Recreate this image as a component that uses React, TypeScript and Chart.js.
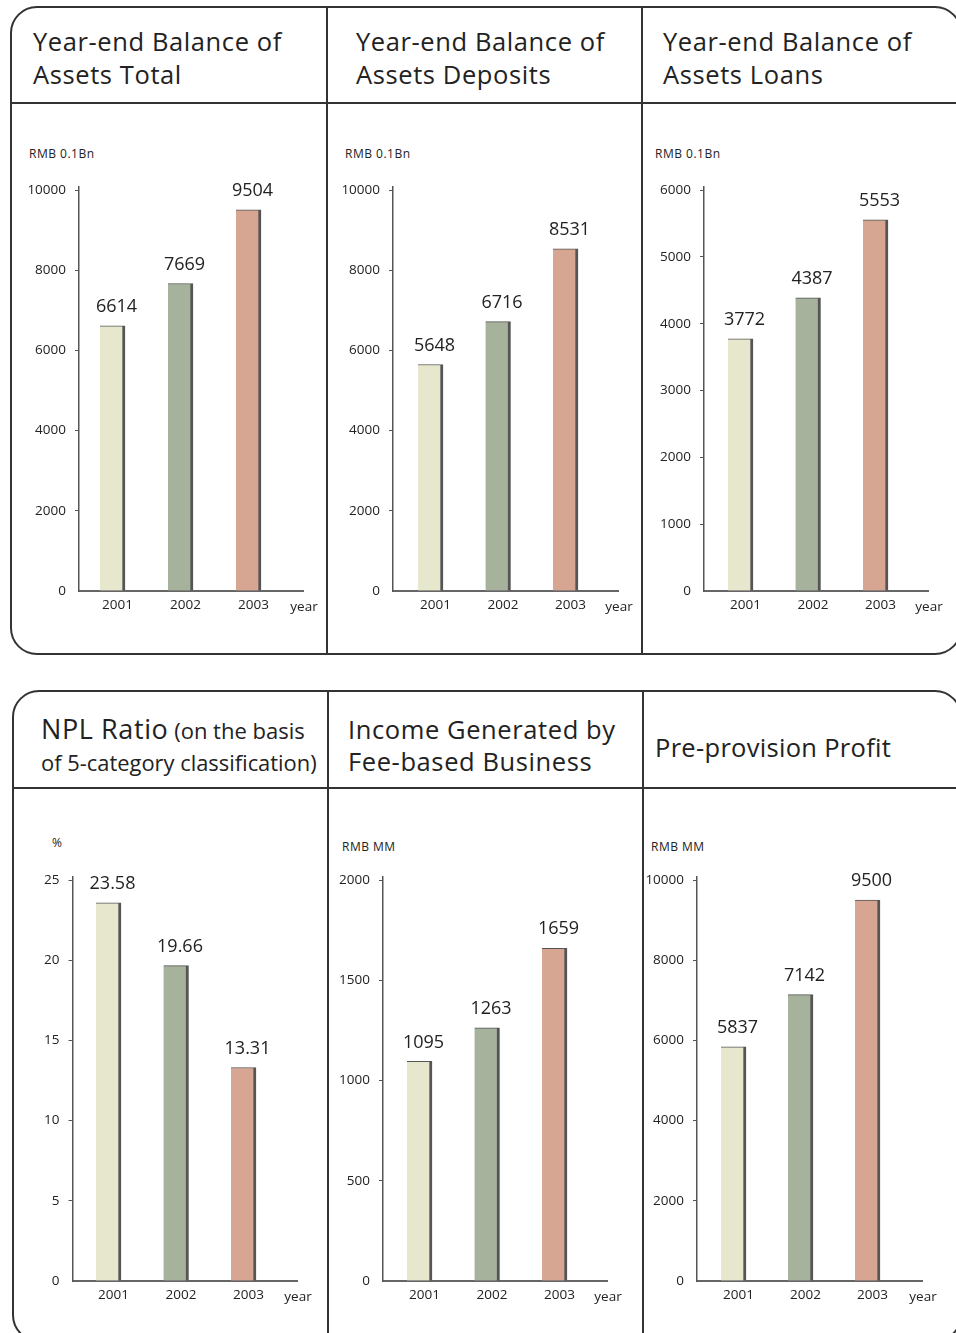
import React, { useEffect, useRef } from 'react';
import { Chart, registerables } from 'chart.js';

Chart.register(...registerables);

// ---------- data ----------
const years = ['2001', '2002', '2003'];
const assetsTotal = [6614, 7669, 9504];
const assetsDeposits = [5648, 6716, 8531];
const assetsLoans = [3772, 4387, 5553];
const nplRatio = [23.58, 19.66, 13.31];
const feeIncome = [1095, 1263, 1659];
const preProvisionProfit = [5837, 7142, 9500];

const ticksAssetsTotal = [0, 2000, 4000, 6000, 8000, 10000];
const ticksAssetsDeposits = [0, 2000, 4000, 6000, 8000, 10000];
const ticksAssetsLoans = [0, 1000, 2000, 3000, 4000, 5000, 6000];
const ticksNpl = [0, 5, 10, 15, 20, 25];
const ticksFee = [0, 500, 1000, 1500, 2000];
const ticksProfit = [0, 2000, 4000, 6000, 8000, 10000];

const unitBn = 'RMB 0.1Bn';
const unitPct = '%';
const unitMM = 'RMB MM';
const xAxisName = 'year';

// ---------- style ----------
const FONT = "'Open Sans', sans-serif";
const barColors = ['#e7e7cd', '#a6b29c', '#d6a692'];
const shadowColor = '#555555';
const textColor = '#222222';
const lineColor = '#333333';

type Cfg = {
  values: number[];
  ticks: number[];
  left: number;
  top: number;
  width: number;
  height: number;
  axisX: number;
  firstCenter: number;
  spacing: number;
  axisEnd: number;
  plotTop: number;
  plotBottom: number;
};

const labelPlugin = {
  id: 'barLabels',
  afterDatasetsDraw(chart: any) {
    const ctx = chart.ctx;
    const meta = chart.getDatasetMeta(0);
    const ds = chart.data.datasets[0];
    ctx.save();
    ctx.fillStyle = textColor;
    ctx.textAlign = 'center';
    ctx.textBaseline = 'middle';
    ctx.font = `18px ${FONT}`;
    meta.data.forEach((el: any, i: number) => {
      ctx.fillText(String(ds.data[i].y), el.x + 4, el.y - 19);
    });
    ctx.font = `13.5px ${FONT}`;
    ctx.fillText(xAxisName, chart.chartArea.right + 1, chart.chartArea.bottom + 16);
    ctx.restore();
  },
};

function BarChart({ cfg }: { cfg: Cfg }) {
  const ref = useRef<HTMLCanvasElement>(null);
  useEffect(() => {
    const c = cfg;
    const yMax = c.ticks[c.ticks.length - 1];
    const ext = (yMax * 3) / (c.plotBottom - c.plotTop);
    const chart = new Chart(ref.current as HTMLCanvasElement, {
      type: 'bar',
      data: {
        datasets: [
          {
            data: c.values.map((v, i) => ({ x: i + 1, y: v })) as any,
            backgroundColor: barColors,
            borderColor: shadowColor,
            borderWidth: { top: 1, right: 3, bottom: 0, left: 0 },
            borderSkipped: false,
            barThickness: 25,
          },
        ],
      },
      options: {
        responsive: false,
        animation: false,
        devicePixelRatio: 1,
        layout: {
          padding: {
            top: c.plotTop - 3 - c.top,
            right: c.left + c.width - c.axisEnd,
            bottom: 0,
            left: 0,
          },
        },
        plugins: { legend: { display: false }, tooltip: { enabled: false } },
        scales: {
          x: {
            type: 'linear',
            offset: false,
            min: 1 - (c.firstCenter - c.axisX) / c.spacing,
            max: 1 + (c.axisEnd - c.firstCenter) / c.spacing,
            afterBuildTicks: (s: any) => {
              s.ticks = years.map((_, i) => ({ value: i + 1 }));
            },
            afterFit: (s: any) => {
              s.height = c.top + c.height - c.plotBottom;
            },
            grid: { display: false, drawTicks: false, tickLength: 0, offset: false },
            border: { display: true, color: '#666666', width: 2 },
            ticks: {
              callback: (_v: any, i: number) => years[i],
              autoSkip: false,
              maxRotation: 0,
              labelOffset: 5,
              padding: 6,
              color: textColor,
              font: { family: FONT, size: 13.5 },
            },
          } as any,
          y: {
            type: 'linear',
            min: 0,
            max: yMax + ext,
            afterBuildTicks: (s: any) => {
              s.ticks = c.ticks.map((v) => ({ value: v }));
            },
            afterFit: (s: any) => {
              s.width = c.axisX - c.left;
            },
            grid: {
              drawOnChartArea: false,
              drawTicks: true,
              tickLength: 4,
              lineWidth: 1,
              color: (ctx: any) => (ctx.tick && ctx.tick.value === 0 ? 'rgba(0,0,0,0)' : '#555555'),
            },
            border: { display: true, color: '#555555', width: 1.5 },
            ticks: {
              padding: 9,
              color: textColor,
              font: { family: FONT, size: 13.5 },
              callback: (v: any) => String(v),
            },
          } as any,
        },
      },
      plugins: [labelPlugin],
    });
    return () => chart.destroy();
  }, [cfg]);
  return (
    <canvas
      ref={ref}
      width={cfg.width}
      height={cfg.height}
      style={{ position: 'absolute', left: cfg.left, top: cfg.top, width: cfg.width, height: cfg.height }}
    />
  );
}

const cfgs: Cfg[] = [
  { values: assetsTotal, ticks: ticksAssetsTotal, left: 12, top: 106, width: 313, height: 546, axisX: 79, firstCenter: 112.5, spacing: 68, axisEnd: 303, plotTop: 190, plotBottom: 591 },
  { values: assetsDeposits, ticks: ticksAssetsDeposits, left: 329, top: 106, width: 311, height: 546, axisX: 393, firstCenter: 430.5, spacing: 67.5, axisEnd: 618, plotTop: 190, plotBottom: 591 },
  { values: assetsLoans, ticks: ticksAssetsLoans, left: 644, top: 106, width: 312, height: 546, axisX: 704, firstCenter: 740.5, spacing: 67.5, axisEnd: 928, plotTop: 190, plotBottom: 591 },
  { values: nplRatio, ticks: ticksNpl, left: 14, top: 791, width: 312, height: 542, axisX: 72.5, firstCenter: 108.5, spacing: 67.5, axisEnd: 297, plotTop: 880, plotBottom: 1281 },
  { values: feeIncome, ticks: ticksFee, left: 330, top: 791, width: 311, height: 542, axisX: 383, firstCenter: 419.5, spacing: 67.5, axisEnd: 607, plotTop: 880, plotBottom: 1281 },
  { values: preProvisionProfit, ticks: ticksProfit, left: 645, top: 791, width: 311, height: 542, axisX: 697, firstCenter: 733.5, spacing: 67, axisEnd: 922, plotTop: 880, plotBottom: 1281 },
];

function Txt({ x, baseline, size, children, ls = 0 }: { x: number; baseline: number; size: number; children: React.ReactNode; ls?: number }) {
  return (
    <div
      style={{
        position: 'absolute',
        left: x,
        top: baseline - 1.069 * size,
        fontSize: size,
        lineHeight: `${1.362 * size}px`,
        letterSpacing: ls,
        whiteSpace: 'pre',
        color: textColor,
        fontFamily: FONT,
      }}
    >
      {children}
    </div>
  );
}

const TITLE = 25.5;
const TITLE_LS = 0.6;
const UNIT = 12;
const UNIT_LS = 0.5;

export default function App() {
  const line = 2;
  return (
    <div
      style={{
        position: 'absolute',
        left: 0,
        top: 0,
        width: 956,
        height: 1333,
        overflow: 'hidden',
        background: '#ffffff',
        fontFamily: FONT,
      }}
    >
      {/* top panel frame */}
      <div style={{ position: 'absolute', left: 10, top: 6, width: 952, height: 649, border: `${line}px solid ${lineColor}`, borderRadius: 27, boxSizing: 'border-box' }} />
      <div style={{ position: 'absolute', left: 10, top: 102, width: 952, height: line, background: lineColor }} />
      <div style={{ position: 'absolute', left: 326, top: 6, width: line, height: 649, background: lineColor }} />
      <div style={{ position: 'absolute', left: 641, top: 6, width: line, height: 649, background: lineColor }} />

      {/* bottom panel frame */}
      <div style={{ position: 'absolute', left: 12, top: 690, width: 950, height: 652, border: `${line}px solid ${lineColor}`, borderRadius: 27, boxSizing: 'border-box' }} />
      <div style={{ position: 'absolute', left: 12, top: 787, width: 950, height: line, background: lineColor }} />
      <div style={{ position: 'absolute', left: 327, top: 690, width: line, height: 660, background: lineColor }} />
      <div style={{ position: 'absolute', left: 642, top: 690, width: line, height: 660, background: lineColor }} />

      {/* titles */}
      <Txt x={33} baseline={51} size={TITLE} ls={TITLE_LS}>Year-end Balance of</Txt>
      <Txt x={33} baseline={84} size={TITLE} ls={TITLE_LS}>Assets Total</Txt>
      <Txt x={356} baseline={51} size={TITLE} ls={TITLE_LS}>Year-end Balance of</Txt>
      <Txt x={356} baseline={84} size={TITLE} ls={TITLE_LS}>Assets Deposits</Txt>
      <Txt x={663} baseline={51} size={TITLE} ls={TITLE_LS}>Year-end Balance of</Txt>
      <Txt x={663} baseline={84} size={TITLE} ls={TITLE_LS}>Assets Loans</Txt>

      <Txt x={41} baseline={740} size={27} ls={0.6}>
        NPL Ratio<span style={{ fontSize: 22, letterSpacing: 0 }}> (on the basis</span>
      </Txt>
      <Txt x={41} baseline={771} size={21.9} ls={0}>of 5-category classification)</Txt>
      <Txt x={348} baseline={739} size={TITLE} ls={TITLE_LS}>Income Generated by</Txt>
      <Txt x={348} baseline={771} size={TITLE} ls={TITLE_LS}>Fee-based Business</Txt>
      <Txt x={655} baseline={757} size={TITLE} ls={0.3}>Pre-provision Profit</Txt>

      {/* units */}
      <Txt x={29} baseline={159} size={UNIT} ls={UNIT_LS}>{unitBn}</Txt>
      <Txt x={345} baseline={159} size={UNIT} ls={UNIT_LS}>{unitBn}</Txt>
      <Txt x={655} baseline={159} size={UNIT} ls={UNIT_LS}>{unitBn}</Txt>
      <Txt x={52} baseline={848} size={UNIT} ls={UNIT_LS}>{unitPct}</Txt>
      <Txt x={342} baseline={852} size={UNIT} ls={UNIT_LS}>{unitMM}</Txt>
      <Txt x={651} baseline={852} size={UNIT} ls={UNIT_LS}>{unitMM}</Txt>

      {cfgs.map((c, i) => (
        <BarChart key={i} cfg={c} />
      ))}
    </div>
  );
}
